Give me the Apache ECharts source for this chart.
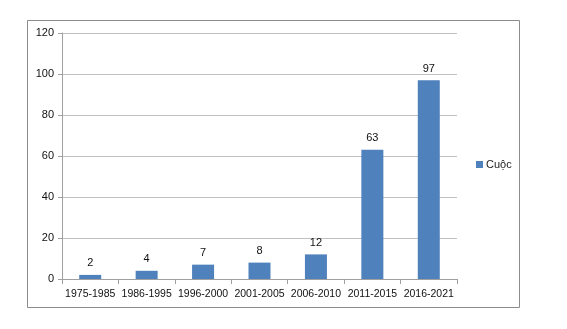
<!DOCTYPE html>
<html><head><meta charset="utf-8">
<script src="https://cdn.jsdelivr.net/npm/echarts@6/dist/echarts.min.js"></script>
<style>html,body{margin:0;padding:0;background:#fff}#c{width:567px;height:329px}</style>
</head><body><div id="c"></div>
<script>
const categories = ['1975-1985','1986-1995','1996-2000','2001-2005','2006-2010','2011-2015','2016-2021'];
const values = [2, 4, 7, 8, 12, 63, 97];
const seriesName = 'Cuộc';
const yTicks = {min: 0, max: 120, interval: 20};

const chart = echarts.init(document.getElementById('c'));
const font = 'Liberation Sans, Arial, sans-serif';
chart.setOption({
  animation: false,
  textStyle: {fontFamily: font},
  graphic: [{type: 'rect', shape: {x: 27.5, y: 20.5, width: 492, height: 287}, style: {fill: 'none', stroke: '#8c8c8c', lineWidth: 1}}],
  grid: {left: 62, right: 110, top: 33, bottom: 50},
  legend: {data: [seriesName], left: 471, top: 154, itemWidth: 7, itemHeight: 7, icon: 'rect', itemGap: 4,
    textStyle: {fontSize: 11, color: '#222', fontFamily: font, padding: [0, 0, 0, -2]}},
  xAxis: {type: 'category', data: categories,
    axisLine: {lineStyle: {color: '#a0a0a0'}},
    axisTick: {show: true, length: 5, lineStyle: {color: '#a0a0a0'}},
    axisLabel: {fontSize: 10.5, color: '#111', margin: 10, interval: 0}},
  yAxis: {type: 'value', min: yTicks.min, max: yTicks.max, interval: yTicks.interval,
    axisLine: {show: true, lineStyle: {color: '#a0a0a0'}},
    axisTick: {show: true, length: 4, lineStyle: {color: '#a0a0a0'}},
    splitLine: {lineStyle: {color: '#c0c0c0'}},
    axisLabel: {fontSize: 11, color: '#111', margin: 8}},
  series: [{name: seriesName, type: 'bar', data: values, barWidth: 22,
    itemStyle: {color: '#4F81BD'},
    label: {show: true, position: 'top', fontSize: 11, color: '#111', distance: 6}}]
});
</script></body></html>
